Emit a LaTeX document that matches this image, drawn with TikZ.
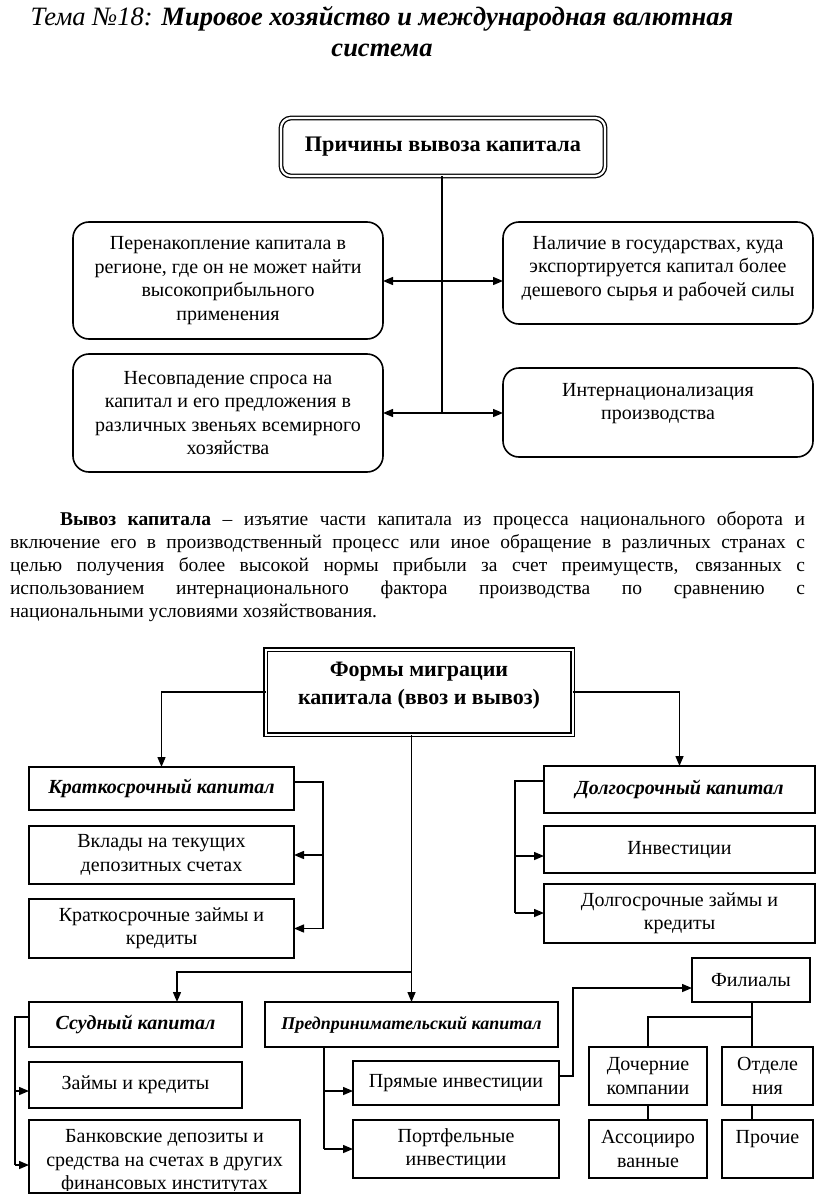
\documentclass[tikz,border=0pt]{standalone}
\usepackage{fontspec}
\setmainfont{Liberation Serif}
\usetikzlibrary{arrows.meta}
\newcommand\setfs[2]{\fontsize{#1}{#2}\selectfont}
\begin{document}
\begin{tikzpicture}[x=1pt,y=-1pt,
  every node/.style={inner sep=0pt, outer sep=0pt},
  bx/.style={draw, line width=1.4pt, align=center, font=\setfs{20}{23.5}},
  rbx/.style={bx, rounded corners=16pt, line width=1.6pt},
  dbx/.style={draw, double, double distance=2.2pt, line width=1.3pt},
  ln/.style={line width=1.4pt},
  arr/.style={ln, -{Triangle[length=10pt,width=8pt]}},
  darr/.style={ln, {Triangle[length=10pt,width=8pt]}-{Triangle[length=10pt,width=8pt]}},
  hd/.style={bx, font=\setfs{20}{23.5}\bfseries\itshape},
  txt/.style={align=center, font=\setfs{20}{23.5}},
]
\useasboundingbox (0,0) rectangle (816,1196);

% title
\node[align=center, font=\setfs{26.5}{31}\itshape] (title) at (382,32)
  {Тема №18: \textbf{Мировое хозяйство и международная валютная}\\\textbf{система}};

% causes
\node[dbx, rounded corners=10pt, minimum width=324pt, minimum height=58pt,
      font=\setfs{22.2}{27}\bfseries] (cause) at (443,147) {Причины вывоза капитала};
\node[rbx, minimum width=310pt, minimum height=117pt] (L1) at (228,280.5)
  {Перенакопление капитала в\\регионе, где он не может найти\\высокоприбыльного\\применения};
\node[rbx, minimum width=310pt, minimum height=102pt] (R1) at (658,273) {};
\node[txt] (R1t) at (658,268.5)
  {Наличие в государствах, куда\\экспортируется капитал более\\дешевого сырья и рабочей силы};
\node[rbx, minimum width=310pt, minimum height=118pt] (L2) at (228,413)
  {Несовпадение спроса на\\капитал и его предложения в\\различных звеньях всемирного\\хозяйства};
\node[rbx, minimum width=310pt, minimum height=89pt] (R2) at (658,412.5) {};
\node[txt] (R2t) at (658,403.5) {Интернационализация\\производства};

\coordinate (j1) at (442,281);
\coordinate (j2) at (442,413);
\draw[ln] (cause.south -| j1) -- (j2);
\draw[darr] (j1 -| L1.east) -- (j1 -| R1.west);
\draw[darr] (j2 -| L2.east) -- (j2 -| R2.west);

% paragraph
\node[anchor=north west, text width=795pt, align=justify, font=\setfs{19.5}{23}] (par) at (10,512)
  {\hyphenpenalty=10000\hspace*{50pt}\textbf{Вывоз капитала} – изъятие части капитала из процесса национального оборота и\linebreak
   включение его в производственный процесс или иное обращение в различных странах с\linebreak
   целью получения более высокой нормы прибыли за счет преимуществ, связанных с\linebreak
   использованием интернационального фактора производства по сравнению с\linebreak
   национальными условиями хозяйствования.};

% forms
\node[draw, double, double distance=2pt, line width=1.5pt, minimum width=307pt, minimum height=85pt] (forms) at (419,692) {};
\node[font=\setfs{22}{28}\bfseries, align=center] (formst) at (419,686) {Формы миграции\\капитала (ввоз и вывоз)};

% short-term
\node[hd, minimum width=265pt, minimum height=43pt] (KK) at (161.5,788.5) {Краткосрочный капитал};
\node[bx, minimum width=265pt, minimum height=58pt] (VK) at (161.5,855) {Вклады на текущих\\депозитных счетах};
\node[bx, minimum width=265pt, minimum height=59pt] (KZ) at (161.5,928.5) {Краткосрочные займы и\\кредиты};

% long-term
\node[hd, minimum width=271pt, minimum height=47pt] (DK) at (679.5,789.5) {Долгосрочный капитал};
\node[bx, minimum width=271pt, minimum height=47pt] (IN) at (679.5,849.5) {Инвестиции};
\node[bx, minimum width=271pt, minimum height=59pt] (DZ) at (679.5,913.5) {Долгосрочные займы и\\кредиты};

\draw[arr] (forms.west) -| (KK.north);
\draw[arr] (forms.east) -| (DK.north);

\coordinate (kb) at (323,782);
\draw[ln] (kb -| KK.east) -- (kb) -- (kb |- KZ.east);
\draw[arr] (kb |- VK.east) -- (VK.east);
\draw[arr] (kb |- KZ.east) -- (KZ.east);

\coordinate (db) at (515,781);
\coordinate (db1) at (515,856);
\coordinate (db2) at (515,913);
\draw[ln] (db -| DK.west) -- (db) -- (db2);
\draw[arr] (db1) -- (db1 -| IN.west);
\draw[arr] (db2) -- (db2 -| DZ.west);

% loan & entrepreneurial
\node[hd, minimum width=213pt, minimum height=45pt] (SK) at (135.5,1024.5) {Ссудный капитал};
\node[bx, minimum width=213pt, minimum height=46pt] (ZK) at (135.5,1085) {Займы и кредиты};
\node[bx, minimum width=271pt, minimum height=73pt] (BD) at (164.5,1156.5) {};
\begin{scope}
  \clip (29,1120) rectangle (300,1190);
  \node[txt] (BDt) at (164.5,1162) {Банковские депозиты и\\средства на счетах в других\\финансовых институтах};
\end{scope}

\node[hd, minimum width=293pt, minimum height=45pt, font=\setfs{18}{21}\bfseries\itshape] (PK) at (411.5,1024.5) {Предпринимательский капитал};
\node[bx, minimum width=206pt, minimum height=44pt] (PI) at (456,1083) {Прямые инвестиции};
\node[bx, minimum width=206pt, minimum height=58pt] (PF) at (456,1149) {Портфельные\\инвестиции};

\draw[arr] (forms.south -| PK.north) -- (PK.north);
\coordinate (hj) at (411.5,972);
\draw[arr] (hj) -| ([xshift=41.5pt]SK.north);

\coordinate (sb) at (15,1017);
\coordinate (sb1) at (15,1091);
\coordinate (sb2) at (15,1165);
\draw[ln] (sb -| SK.west) -- (sb) -- (sb2);
\draw[arr] (sb1) -- (sb1 -| ZK.west);
\draw[arr] (sb2) -- (sb2 -| BD.west);

\coordinate (pb1) at (324,1091);
\coordinate (pb2) at (324,1149);
\draw[ln] (pb1 |- PK.south) -- (pb2);
\draw[arr] (pb1) -- (pb1 -| PI.west);
\draw[arr] (pb2) -- (pb2 -| PF.west);

% subsidiaries
\node[bx, minimum width=118pt, minimum height=44pt] (FL) at (751,980) {Филиалы};
\node[bx, minimum width=118pt, minimum height=58pt] (DC) at (648,1076) {Дочерние\\компании};
\node[bx, minimum width=91pt, minimum height=58pt] (OT) at (767.5,1076) {Отделе\\ния};
\node[bx, minimum width=118pt, minimum height=58pt] (AS) at (648,1149) {Ассоцииро\\ванные};
\node[bx, minimum width=91pt, minimum height=58pt] (PR) at (767.5,1149) {Прочие\\\mbox{}};

\coordinate (fb1) at (573,1076);
\coordinate (fb2) at (573,988);
\draw[arr] (fb1 -| PI.east) -- (fb1) -- (fb2) -- (fb2 -| FL.west);

\coordinate (ft) at (752,1017);
\draw[ln] (ft |- FL.south) -- (ft |- OT.north);
\draw[ln] (ft) -| (DC.north);
\draw[ln] (DC.south) -- (AS.north);
\draw[ln] (ft |- OT.south) -- (ft |- PR.north);
\end{tikzpicture}
\end{document}
